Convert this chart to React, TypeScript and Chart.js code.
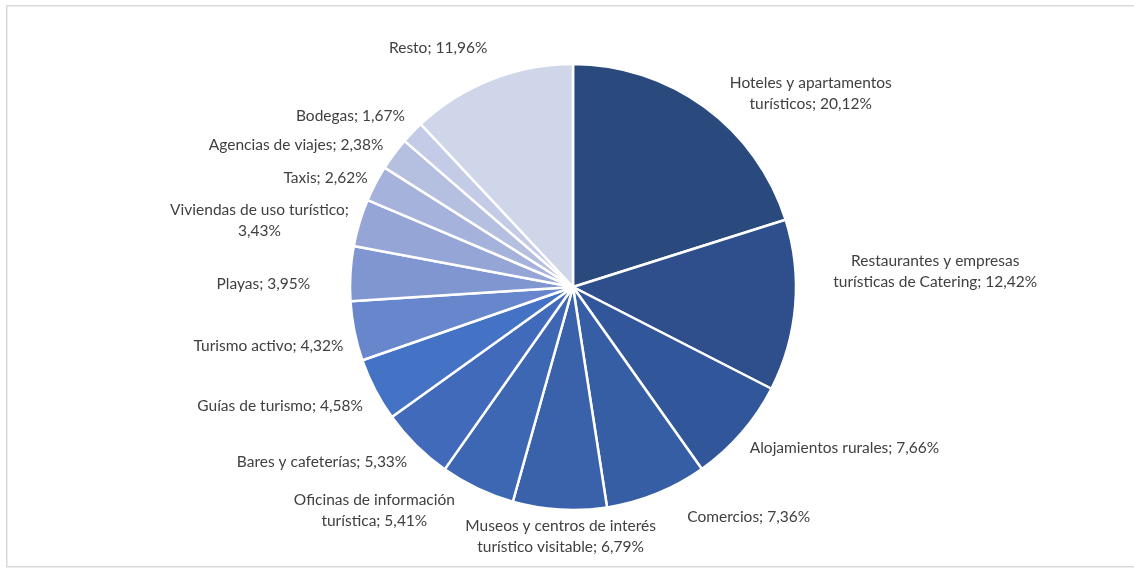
import React, { useEffect, useRef } from "react";
import { Chart, registerables } from "chart.js";

Chart.register(...registerables);

// ---- data ----
const categories = [
  "Hoteles y apartamentos turísticos",
  "Restaurantes y empresas turísticas de Catering",
  "Alojamientos rurales",
  "Comercios",
  "Museos y centros de interés turístico visitable",
  "Oficinas de información turística",
  "Bares y cafeterías",
  "Guías de turismo",
  "Turismo activo",
  "Playas",
  "Viviendas de uso turístico",
  "Taxis",
  "Agencias de viajes",
  "Bodegas",
  "Resto",
];

const shares = [20.12, 12.42, 7.66, 7.36, 6.79, 5.41, 5.33, 4.58, 4.32, 3.95, 3.43, 2.62, 2.38, 1.67, 11.96];

// ---- styling / layout (not data) ----
const sliceColors = [
  "#2a4a7e",
  "#2e4f8c",
  "#31579a",
  "#355ea4",
  "#3962ab",
  "#3d67b3",
  "#416bba",
  "#4472c4",
  "#6886cb",
  "#7f96d0",
  "#94a5d6",
  "#a5b2db",
  "#b5bfe0",
  "#c3cbe6",
  "#d0d6ea",
];

// words on the first line of each label (0 = single line)
const wrapAfterWords = [3, 3, 0, 0, 5, 3, 0, 0, 0, 0, 4, 0, 0, 0, 0];

// label centre offset from the outer-edge midpoint of its slice
const labelNudges: [number, number][] = [
  [106, -14],
  [140, -34],
  [103, 15],
  [92, 23],
  [1, 27],
  [-103, 22],
  [-94, 17],
  [-95, 16],
  [-86, 15],
  [-87, 11],
  [-100, -2],
  [-50, -6],
  [-98, -9],
  [-62, -16],
  [-53, -32],
];

const LABEL_FONT = "15.5px Lato, 'Open Sans', sans-serif";
const LINE_H = 21;

function labelLines(i: number): string[] {
  const txt = `${categories[i]}; ${shares[i].toFixed(2).replace(".", ",")}%`;
  const n = wrapAfterWords[i];
  if (!n) return [txt];
  const words = txt.split(" ");
  return [words.slice(0, n).join(" "), words.slice(n).join(" ")];
}

const framePlugin = {
  id: "frame",
  beforeDraw(chart: any) {
    const ctx = chart.ctx;
    ctx.save();
    ctx.fillStyle = "#ffffff";
    ctx.fillRect(0, 0, chart.width, chart.height);
    ctx.strokeStyle = "#d9d9d9";
    ctx.lineWidth = 1.5;
    ctx.strokeRect(6.75, 5.75, 1200, 561);
    ctx.restore();
  },
};

const labelPlugin = {
  id: "outsideLabels",
  afterDatasetsDraw(chart: any) {
    const ctx = chart.ctx;
    const meta = chart.getDatasetMeta(0);
    ctx.save();
    ctx.font = LABEL_FONT;
    ctx.fillStyle = "#404040";
    ctx.textAlign = "center";
    ctx.textBaseline = "middle";
    meta.data.forEach((arc: any, i: number) => {
      const p = arc.getProps(["x", "y", "startAngle", "endAngle", "outerRadius"], true);
      const mid = (p.startAngle + p.endAngle) / 2;
      const ex = p.x + Math.cos(mid) * p.outerRadius;
      const ey = p.y + Math.sin(mid) * p.outerRadius;
      const cx = ex + labelNudges[i][0];
      const cy = ey + labelNudges[i][1];
      const lines = labelLines(i);
      const top = cy - ((lines.length - 1) * LINE_H) / 2;
      lines.forEach((l, k) => ctx.fillText(l, cx, top + k * LINE_H));
    });
    ctx.restore();
  },
};

export default function App() {
  const ref = useRef<HTMLCanvasElement | null>(null);

  useEffect(() => {
    document.body.style.margin = "0";
    if (!ref.current) return;
    const chart = new Chart(ref.current, {
      type: "pie",
      data: {
        labels: categories,
        datasets: [
          {
            data: shares,
            backgroundColor: sliceColors,
            borderColor: "#ffffff",
            borderWidth: 2.5,
          },
        ],
      },
      options: {
        responsive: false,
        animation: false,
        radius: 223,
        layout: { padding: { left: 346, right: 334, top: 60, bottom: 54 } },
        plugins: {
          legend: { display: false },
          tooltip: { enabled: false },
        },
      } as any,
      plugins: [framePlugin, labelPlugin],
    });
    return () => chart.destroy();
  }, []);

  return (
    <div style={{ width: 1134, height: 568, overflow: "hidden" }}>
      <canvas ref={ref} width={1134} height={568} style={{ display: "block" }} />
    </div>
  );
}
